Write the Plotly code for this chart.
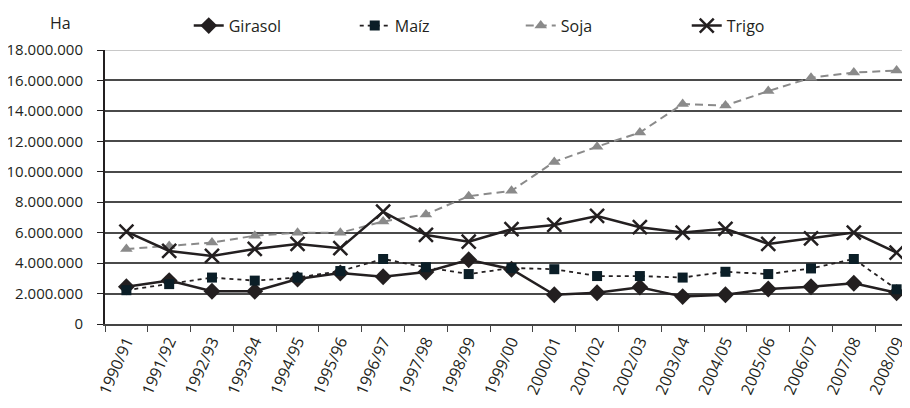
import plotly.graph_objects as go

campanas = ["1990/91", "1991/92", "1992/93", "1993/94", "1994/95", "1995/96", "1996/97",
            "1997/98", "1998/99", "1999/00", "2000/01", "2001/02", "2002/03", "2003/04",
            "2004/05", "2005/06", "2006/07", "2007/08", "2008/09"]

girasol = [2.45, 2.85, 2.15, 2.15, 2.95, 3.35, 3.10, 3.42, 4.22, 3.60, 1.92, 2.05, 2.42,
           1.80, 1.92, 2.30, 2.45, 2.68, 2.05]
maiz = [2.22, 2.62, 3.05, 2.85, 3.05, 3.48, 4.27, 3.73, 3.28, 3.68, 3.60, 3.15, 3.15,
        3.05, 3.43, 3.28, 3.65, 4.27, 2.28]
soja = [4.92, 5.13, 5.35, 5.80, 6.00, 6.00, 6.73, 7.20, 8.40, 8.75, 10.65, 11.65, 12.58,
        14.45, 14.35, 15.30, 16.18, 16.52, 16.65]
trigo = [6.07, 4.80, 4.47, 4.93, 5.26, 4.98, 7.38, 5.85, 5.41, 6.23, 6.51, 7.10, 6.36,
         6.01, 6.25, 5.26, 5.63, 6.01, 4.69]

ticks_y = [0, 2e6, 4e6, 6e6, 8e6, 10e6, 12e6, 14e6, 16e6, 18e6]

M = 1e6
FONT = "Open Sans"

fig = go.Figure()
fig.add_trace(go.Scatter(
    x=campanas, y=[v * M for v in girasol], name="Girasol", mode="lines+markers",
    line=dict(color="#231f20", width=2.5),
    marker=dict(symbol="diamond", size=13, color="#231f20")))
fig.add_trace(go.Scatter(
    x=campanas, y=[v * M for v in maiz], name="Maíz", mode="lines+markers",
    line=dict(color="#231f20", width=1.8, dash="4px,4px"),
    marker=dict(symbol="square", size=10, color="#0b1e27")))
fig.add_trace(go.Scatter(
    x=campanas, y=[v * M for v in soja], name="Soja", mode="lines+markers",
    line=dict(color="#8a8a8a", width=2, dash="8px,5px"),
    marker=dict(symbol="triangle-up", size=11, color="#8a8a8a")))
fig.add_trace(go.Scatter(
    x=campanas, y=[v * M for v in trigo], name="Trigo", mode="lines+markers",
    line=dict(color="#231f20", width=2.5),
    marker=dict(symbol="x-thin", size=14, color="#231f20",
                line=dict(color="#231f20", width=2.5))))

fig.update_layout(
    width=910, height=408,
    margin=dict(l=97, r=0, t=42, b=92),
    paper_bgcolor="white", plot_bgcolor="white",
    separators=",.",
    font=dict(family=FONT, size=14, color="#231f20"),
    showlegend=True,
    legend=dict(orientation="h", x=0.103, xanchor="left", y=0.915, yanchor="bottom",
                yref="container", entrywidth=121, font=dict(size=16),
                bgcolor="rgba(0,0,0,0)", traceorder="normal"),
    xaxis=dict(type="category", range=[-0.5, 18.5], showgrid=False, automargin=False,
               showline=True, linecolor="#444", linewidth=2,
               ticks="outside", tickson="boundaries", ticklen=6, tickcolor="#444",
               tickangle=-66, tickfont=dict(size=16)),
    yaxis=dict(range=[0, 18e6], tickvals=ticks_y, tickformat=",d", automargin=False,
               showgrid=True, gridcolor="#4a4a4a", gridwidth=1.5,
               showline=True, linecolor="#231f20", linewidth=2,
               ticks="outside", ticklen=6, tickcolor="#231f20", ticklabelstandoff=11,
               zeroline=False, tickfont=dict(size=15)),
    annotations=[dict(text="Ha", xref="paper", yref="paper", x=-0.055, y=1.10,
                      xanchor="center", yanchor="middle", showarrow=False,
                      font=dict(size=16))],
)
fig.add_shape(type="line", xref="paper", yref="y", x0=0, x1=1, y0=18e6, y1=18e6,
              line=dict(color="#c8c8c8", width=2))
fig.write_html("out.html")
